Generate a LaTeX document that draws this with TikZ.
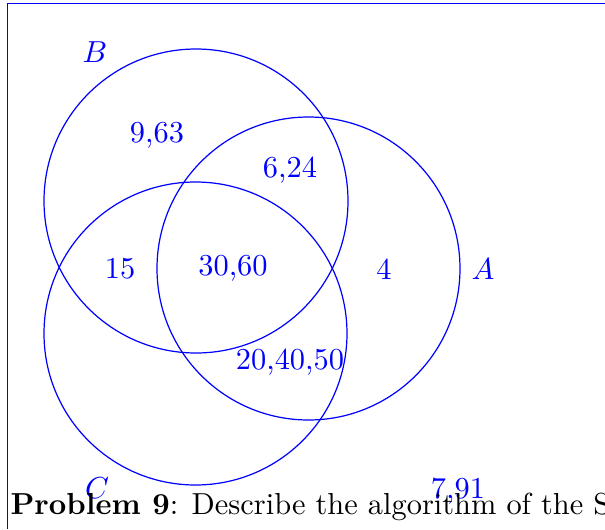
\documentclass[tikz,border=0pt]{standalone}
\begin{document}
\begin{tikzpicture}[x=0.329pt,y=-0.329pt,
  vlabel/.style={text=blue,inner sep=0pt},
  vcirc/.style={draw=blue,line width=0.4pt}]
\useasboundingbox (0,0) rectangle (605,529);
\coordinate (tl) at (7.2,3.5);
\coordinate (tr) at (605,3.5);
\coordinate (bl) at (7.2,529);
\draw[draw=blue,line width=0.45pt] (bl) -- (tl) -- (tr);
\draw[vcirc] (196,201) circle[radius=152];
\draw[vcirc] (308.5,268.5) circle[radius=151.5];
\draw[vcirc] (195.5,333.5) circle[radius=151.5];
\node[vlabel] (lB) at (95,52) {$B$};
\node[vlabel] (lA) at (483,269) {$A$};
\node[vlabel] (lC) at (97,488) {$C$};
\node[vlabel] (n963) at (157,135) {9,63};
\node[vlabel] (n624) at (290,170) {6,24};
\node[vlabel] (n15) at (120,269) {15};
\node[vlabel] (n3060) at (233,268) {30,60};
\node[vlabel] (n4) at (384,269) {4};
\node[vlabel] (n204050) at (290,362) {20,40,50};
\node[vlabel] (n791) at (458,491) {7,91};
\node[anchor=base west,inner sep=0pt] (prob) at (10,514) {\textbf{Problem 9}: Describe the algorithm of the Sieve};
\end{tikzpicture}
\end{document}
